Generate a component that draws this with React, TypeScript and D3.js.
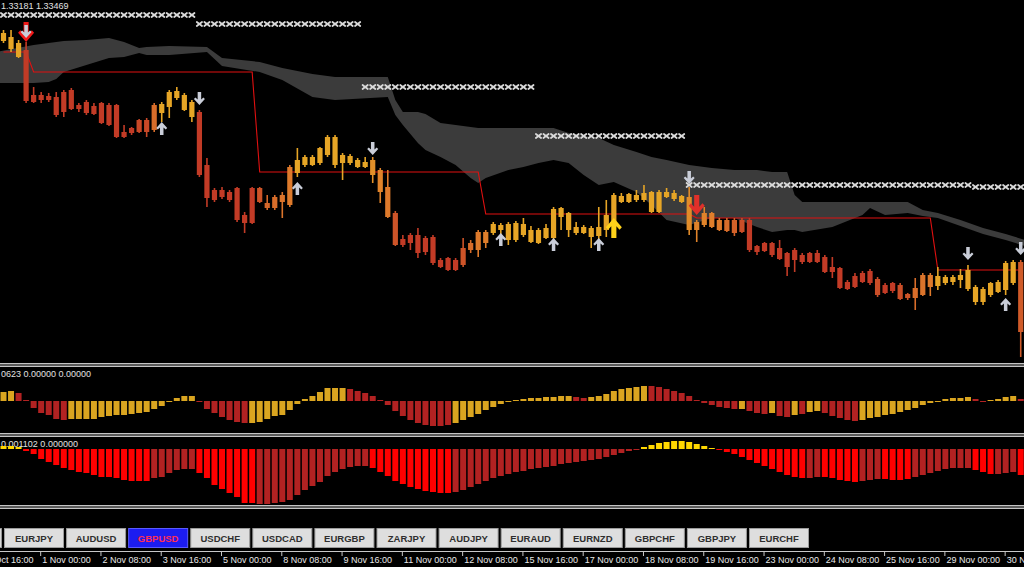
import React from "react";
import * as d3 from "d3";

const W = 1024;
const H = 567;

// ---------- price candles (H4 GBPUSD) ----------
const opens = [
  1.3809, 1.3801, 1.3793, 1.3800, 1.3755, 1.3755, 1.3754, 1.3753, 1.3758, 1.3760,
  1.3745, 1.3748, 1.3744, 1.3747, 1.3745, 1.3745, 1.3718, 1.3722, 1.3718, 1.3718,
  1.3720, 1.3737, 1.3743, 1.3752, 1.3755, 1.3748, 1.3738, 1.3685, 1.3650, 1.3660,
  1.3658, 1.3662, 1.3627, 1.3627, 1.3662, 1.3647, 1.3642, 1.3648, 1.3645, 1.3677,
  1.3685, 1.3693, 1.3687, 1.3695, 1.3713, 1.3687, 1.3694, 1.3690, 1.3683, 1.3690,
  1.3680, 1.3663, 1.3637, 1.3611, 1.3607, 1.3615, 1.3598, 1.3613, 1.3590, 1.3580,
  1.3590, 1.3585, 1.3600, 1.3600, 1.3618, 1.3617, 1.3620, 1.3626, 1.3610, 1.3626,
  1.3620, 1.3607, 1.3612, 1.3612, 1.3642, 1.3637, 1.3623, 1.3617, 1.3622, 1.3614,
  1.3620, 1.3628, 1.3648, 1.3656, 1.3650, 1.3650, 1.3638, 1.3658, 1.3653, 1.3657,
  1.3648, 1.3653, 1.3620, 1.3625, 1.3637, 1.3630, 1.3619, 1.3630, 1.3618, 1.3630,
  1.3604, 1.3599, 1.3607, 1.3602, 1.3597, 1.3590, 1.3595, 1.3588, 1.3597, 1.3593,
  1.3583, 1.3582, 1.3561, 1.3563, 1.3568, 1.3579, 1.3571, 1.3557, 1.3567, 1.3565,
  1.3552, 1.3552, 1.3555, 1.3575, 1.3564, 1.3567, 1.3573, 1.3570, 1.3580, 1.3563,
  1.3548, 1.3555, 1.3558, 1.3560, 1.3588, 1.3588,
];
const closes = [
  1.3817, 1.3813, 1.3807, 1.3749, 1.3748, 1.3750, 1.3750, 1.3735, 1.3738, 1.3741,
  1.3741, 1.3737, 1.3736, 1.3727, 1.3725, 1.3713, 1.3713, 1.3717, 1.3730, 1.3730,
  1.3745, 1.3746, 1.3758, 1.3759, 1.3740, 1.3733, 1.3675, 1.3652, 1.3660, 1.3653,
  1.3650, 1.3630, 1.3635, 1.3662, 1.3648, 1.3642, 1.3653, 1.3655, 1.3683, 1.3690,
  1.3693, 1.3685, 1.3702, 1.3713, 1.3685, 1.3695, 1.3687, 1.3683, 1.3688, 1.3675,
  1.3658, 1.3633, 1.3605, 1.3605, 1.3615, 1.3597, 1.3612, 1.3587, 1.3583, 1.3592,
  1.3580, 1.3602, 1.3607, 1.3618, 1.3607, 1.3626, 1.3625, 1.3610, 1.3627, 1.3615,
  1.3608, 1.3620, 1.3622, 1.3641, 1.3633, 1.3620, 1.3617, 1.3623, 1.3613, 1.3623,
  1.3635, 1.3655, 1.3654, 1.3648, 1.3655, 1.3657, 1.3658, 1.3638, 1.3658, 1.3651,
  1.3654, 1.3620, 1.3628, 1.3637, 1.3623, 1.3620, 1.3630, 1.3617, 1.3630, 1.3600,
  1.3598, 1.3607, 1.3595, 1.3591, 1.3583, 1.3600, 1.3588, 1.3597, 1.3588, 1.3578,
  1.3578, 1.3562, 1.3568, 1.3574, 1.3577, 1.3567, 1.3555, 1.3565, 1.3559, 1.3551,
  1.3556, 1.3562, 1.3575, 1.3563, 1.3574, 1.3573, 1.3568, 1.3575, 1.3561, 1.3548,
  1.3561, 1.3567, 1.3568, 1.3587, 1.3567, 1.3518,
];
const highs = [
  1.3820, 1.3820, 1.3810, 1.3808, 1.3763, 1.3758, 1.3757, 1.3758, 1.3760, 1.3762,
  1.3747, 1.3750, 1.3747, 1.3748, 1.3747, 1.3746, 1.3725, 1.3723, 1.3731, 1.3732,
  1.3747, 1.3748, 1.3760, 1.3763, 1.3757, 1.3750, 1.3740, 1.3692, 1.3662, 1.3663,
  1.3660, 1.3663, 1.3638, 1.3663, 1.3663, 1.3655, 1.3655, 1.3658, 1.3685, 1.3702,
  1.3695, 1.3695, 1.3703, 1.3715, 1.3715, 1.3697, 1.3696, 1.3692, 1.3693, 1.3693,
  1.3682, 1.3680, 1.3639, 1.3615, 1.3617, 1.3622, 1.3614, 1.3615, 1.3592, 1.3593,
  1.3592, 1.3612, 1.3610, 1.3620, 1.3620, 1.3628, 1.3627, 1.3628, 1.3629, 1.3632,
  1.3624, 1.3622, 1.3626, 1.3643, 1.3643, 1.3638, 1.3628, 1.3625, 1.3624, 1.3643,
  1.3650, 1.3657, 1.3657, 1.3657, 1.3660, 1.3665, 1.3659, 1.3660, 1.3662, 1.3660,
  1.3655, 1.3663, 1.3630, 1.3643, 1.3638, 1.3632, 1.3632, 1.3632, 1.3632, 1.3632,
  1.3605, 1.3608, 1.3608, 1.3610, 1.3598, 1.3602, 1.3597, 1.3598, 1.3600, 1.3595,
  1.3593, 1.3583, 1.3570, 1.3577, 1.3579, 1.3581, 1.3573, 1.3567, 1.3568, 1.3567,
  1.3557, 1.3572, 1.3577, 1.3577, 1.3583, 1.3575, 1.3575, 1.3581, 1.3585, 1.3565,
  1.3563, 1.3568, 1.3570, 1.3589, 1.3590, 1.3590,
];
const lows = [
  1.3807, 1.3798, 1.3792, 1.3747, 1.3747, 1.3747, 1.3748, 1.3733, 1.3733, 1.3740,
  1.3738, 1.3735, 1.3735, 1.3726, 1.3724, 1.3712, 1.3712, 1.3715, 1.3717, 1.3713,
  1.3718, 1.3728, 1.3732, 1.3750, 1.3739, 1.3728, 1.3673, 1.3643, 1.3648, 1.3651,
  1.3648, 1.3628, 1.3617, 1.3626, 1.3647, 1.3640, 1.3640, 1.3632, 1.3643, 1.3673,
  1.3683, 1.3684, 1.3685, 1.3693, 1.3682, 1.3670, 1.3685, 1.3682, 1.3682, 1.3667,
  1.3647, 1.3632, 1.3604, 1.3603, 1.3600, 1.3592, 1.3595, 1.3585, 1.3582, 1.3579,
  1.3579, 1.3583, 1.3597, 1.3593, 1.3602, 1.3615, 1.3612, 1.3605, 1.3608, 1.3613,
  1.3607, 1.3606, 1.3611, 1.3610, 1.3620, 1.3613, 1.3615, 1.3616, 1.3602, 1.3610,
  1.3613, 1.3627, 1.3647, 1.3647, 1.3648, 1.3648, 1.3637, 1.3637, 1.3652, 1.3649,
  1.3647, 1.3615, 1.3608, 1.3623, 1.3622, 1.3619, 1.3618, 1.3614, 1.3617, 1.3598,
  1.3595, 1.3598, 1.3593, 1.3590, 1.3574, 1.3578, 1.3586, 1.3587, 1.3587, 1.3577,
  1.3572, 1.3561, 1.3560, 1.3562, 1.3567, 1.3565, 1.3553, 1.3556, 1.3557, 1.3550,
  1.3550, 1.3540, 1.3554, 1.3554, 1.3560, 1.3565, 1.3565, 1.3562, 1.3559, 1.3545,
  1.3545, 1.3553, 1.3557, 1.3555, 1.3565, 1.3493,
];
// trend colouring of each candle: 0 = gold, 0.5 = orange, 1 = red
const trendHeat = [
  0, 0, 0, 1, 1, 1, 1, 1, 1, 1,
  1, 1, 1, 1, 1, 1, 1, 1, 0.9, 0.9,
  0.6, 0, 0, 0, 0, 0, 1, 1, 1, 1,
  1, 1, 1, 1, 0.8, 0.65, 0.6, 0.55, 0.5, 0,
  0, 0, 0, 0, 0, 0, 0, 0, 0, 0.25,
  0.4, 0.5, 0.8, 1, 1, 1, 1, 1, 1, 1,
  1, 0.8, 0.6, 0.5, 0.45, 0, 0, 0, 0, 0,
  0, 0, 0, 0, 0, 0, 0, 0, 0, 0,
  0, 0, 0, 0, 0, 0, 0, 0, 0, 0,
  0, 0.3, 0.4, 0.4, 0.45, 0.5, 0.6, 0.7, 0.85, 1,
  1, 1, 1, 1, 1, 1, 1, 1, 1, 1,
  1, 1, 1, 1, 1, 1, 0.85, 1, 1, 0.85,
  0.8, 0.6, 0.55, 0.5, 0, 0, 0, 0, 0, 0,
  0, 0, 0, 0, 0, 0.75,
];

// ---------- Ichimoku cloud (sampled bars) ----------
const cloudBars = [-1, 4, 6, 7, 8, 11, 14, 16, 18, 19, 22, 27, 29, 34, 37, 41, 44, 51, 52, 53, 55, 56, 58, 60, 62, 63, 64, 67, 69, 71, 73, 75, 77, 79, 81, 84, 86, 88, 91, 94, 97, 100, 102, 104, 105, 106, 110, 114, 115, 117, 120, 122, 124, 127, 130, 133, 136];
const cloudUpper = [1.3798, 1.3805, 1.3807, 1.3808, 1.3809, 1.3810, 1.3812, 1.3808, 1.3802, 1.3803, 1.3804, 1.3803, 1.3792, 1.3788, 1.3782, 1.3776, 1.3773, 1.3773, 1.3750, 1.3738, 1.3738, 1.3736, 1.3727, 1.3725, 1.3723, 1.3722, 1.3722, 1.3722, 1.3722, 1.3722, 1.3722, 1.3717, 1.3714, 1.3712, 1.3705, 1.3698, 1.3693, 1.3690, 1.3685, 1.3682, 1.3680, 1.3680, 1.3678, 1.3678, 1.3655, 1.3648, 1.3648, 1.3648, 1.3648, 1.3648, 1.3648, 1.3640, 1.3637, 1.3630, 1.3622, 1.3616, 1.3609];
const cloudLower = [1.3767, 1.3767, 1.3768, 1.3771, 1.3778, 1.3785, 1.3792, 1.3793, 1.3797, 1.3795, 1.3795, 1.3798, 1.3784, 1.3778, 1.3770, 1.3753, 1.3750, 1.3753, 1.3735, 1.3725, 1.3707, 1.3700, 1.3693, 1.3685, 1.3672, 1.3667, 1.3672, 1.3680, 1.3683, 1.3687, 1.3690, 1.3687, 1.3675, 1.3665, 1.3668, 1.3658, 1.3645, 1.3630, 1.3625, 1.3632, 1.3632, 1.3623, 1.3618, 1.3620, 1.3620, 1.3618, 1.3623, 1.3635, 1.3642, 1.3635, 1.3637, 1.3634, 1.3632, 1.3624, 1.3616, 1.3610, 1.3603];

// ---------- trailing stop line (bar ranges) ----------
const stopFrom = [0, 4, 34, 64, 92, 124];
const stopTo = [3, 33, 63, 91, 123, 135];
const stopLevel = [1.3798, 1.3778, 1.3678, 1.3636, 1.3632, 1.3580];

// ---------- x-marker rows ----------
const markFrom = [0, 26, 48, 71, 91, 129];
const markTo = [25, 47, 70, 90, 128, 135];
const markLevel = [1.3835, 1.3826, 1.3763, 1.3714, 1.3665, 1.3663];

// ---------- signal arrows ----------
const downArrowBars = [3, 26, 49, 91, 128, 135];
const downArrowTips = [1.3812, 1.3745, 1.3695, 1.3666, 1.3590, 1.3595];
const upArrowBars = [21, 39, 66, 73, 79, 133];
const upArrowTips = [1.3728, 1.3668, 1.3617, 1.3612, 1.3612, 1.3552];
const bigDownBars = [3, 92];
const bigDownTips = [1.3808, 1.3635];
const bigUpBars = [81];
const bigUpTips = [1.3632];

// ---------- sub window 1 histogram ----------
const hist1 = [
  0.00009, 0.00010, 0.00008, 0.00001, -0.00007, -0.00012, -0.00014, -0.00018, -0.00019, -0.00018,
  -0.00018, -0.00018, -0.00018, -0.00016, -0.00015, -0.00014, -0.00014, -0.00013, -0.00012, -0.00011,
  -0.00008, -0.00005, -0.00001, 0.00003, 0.00005, 0.00005, -0.00001, -0.00008, -0.00012, -0.00016,
  -0.00019, -0.00021, -0.00022, -0.00022, -0.00021, -0.00018, -0.00015, -0.00014, -0.00009, -0.00003,
  0.00002, 0.00005, 0.00009, 0.00013, 0.00013, 0.00013, 0.00012, 0.00010, 0.00008, 0.00005,
  0.00001, -0.00004, -0.00010, -0.00015, -0.00019, -0.00022, -0.00024, -0.00025, -0.00025, -0.00024,
  -0.00022, -0.00019, -0.00016, -0.00013, -0.00009, -0.00006, -0.00003, -0.00001, 0.00001, 0.00002,
  0.00003, 0.00003, 0.00004, 0.00004, 0.00005, 0.00005, 0.00004, 0.00003, 0.00004, 0.00005,
  0.00007, 0.00010, 0.00012, 0.00013, 0.00014, 0.00015, 0.00015, 0.00014, 0.00012, 0.00010,
  0.00008, 0.00005, 0.00001, -0.00002, -0.00004, -0.00006, -0.00007, -0.00008, -0.00008, -0.00010,
  -0.00012, -0.00013, -0.00012, -0.00015, -0.00016, -0.00014, -0.00013, -0.00011, -0.00010, -0.00012,
  -0.00015, -0.00017, -0.00019, -0.00020, -0.00019, -0.00017, -0.00016, -0.00014, -0.00013, -0.00011,
  -0.00009, -0.00007, -0.00004, -0.00002, 0.00000, 0.00002, 0.00003, 0.00003, 0.00004, 0.00002,
  0.00000, 0.00001, 0.00002, 0.00004, 0.00005, 0.00002,
];
const hist1Colors =
  "gg" + "rrrrrrr" + "ggggggggggggggggg" + "rrrrrrr" + "ggggggggggggg" + "rrrrrrrrrrrrrr" +
  "gggggggggggggggg" + "rr" + "gggggggg" + "rrrrrrrrrrrr" + "g" + "rrr" + "g" + "rr" + "g" + "r" +
  "gg" + "rrrrr" + "ggggggggggggggg" + "rr" + "gggg" + "r";

// ---------- sub window 2 histogram ----------
const hist2 = [
  0.00003, 0.00003, 0.00002, -0.00002, -0.00005, -0.00010, -0.00013, -0.00016, -0.00019, -0.00021,
  -0.00023, -0.00024, -0.00026, -0.00028, -0.00028, -0.00029, -0.00031, -0.00032, -0.00032, -0.00032,
  -0.00029, -0.00028, -0.00024, -0.00021, -0.00020, -0.00020, -0.00024, -0.00029, -0.00036, -0.00040,
  -0.00044, -0.00048, -0.00054, -0.00054, -0.00055, -0.00055, -0.00054, -0.00053, -0.00051, -0.00046,
  -0.00041, -0.00037, -0.00033, -0.00027, -0.00023, -0.00020, -0.00018, -0.00017, -0.00017, -0.00019,
  -0.00023, -0.00027, -0.00032, -0.00035, -0.00038, -0.00040, -0.00042, -0.00043, -0.00044, -0.00044,
  -0.00043, -0.00041, -0.00038, -0.00035, -0.00032, -0.00029, -0.00027, -0.00025, -0.00023, -0.00022,
  -0.00020, -0.00019, -0.00018, -0.00017, -0.00015, -0.00014, -0.00013, -0.00012, -0.00011, -0.00010,
  -0.00008, -0.00006, -0.00004, -0.00002, -0.00001, 0.00002, 0.00004, 0.00006, 0.00007, 0.00008,
  0.00008, 0.00007, 0.00005, 0.00003, 0.00001, -0.00001, -0.00003, -0.00005, -0.00008, -0.00011,
  -0.00014, -0.00017, -0.00020, -0.00023, -0.00026, -0.00028, -0.00029, -0.00029, -0.00028, -0.00028,
  -0.00029, -0.00031, -0.00032, -0.00033, -0.00032, -0.00031, -0.00030, -0.00030, -0.00031, -0.00031,
  -0.00030, -0.00028, -0.00026, -0.00024, -0.00022, -0.00020, -0.00019, -0.00019, -0.00019, -0.00021,
  -0.00023, -0.00025, -0.00025, -0.00024, -0.00023, -0.00026,
];
const hist2Colors =
  "yyy" + "bbbbbbbbbbbbbbbbb" + "dddddd" + "bbbbbbbb" + "ddddddddddddddd" + "bbbbbbbbbbb" +
  "ddddddddddddddddddddddddd" + "yyyyyyyyyy" + "bbbbbbbbbbbb" + "dd" + "bbbbb" + "ddd" + "bbbb" +
  "dddddddd" + "bbb" + "ddd" + "b";

// ---------- indicator value captions (visible part) ----------
const sub1Caption = "0623 0.00000 0.00000";
const sub2Caption = "0.001102 0.000000";
const mainCaption = "1.33181 1.33469";

// ---------- time axis ----------
const timeTickBars = [-3, 5, 13, 21, 29, 37, 45, 53, 61, 69, 77, 85, 93, 101, 109, 117, 125, 133];
const timeTickLabels = [
  "28 Oct 16:00", "1 Nov 00:00", "2 Nov 08:00", "3 Nov 16:00", "5 Nov 00:00", "8 Nov 08:00",
  "9 Nov 16:00", "11 Nov 00:00", "12 Nov 08:00", "15 Nov 16:00", "17 Nov 00:00", "18 Nov 08:00",
  "19 Nov 16:00", "23 Nov 00:00", "24 Nov 08:00", "25 Nov 16:00", "29 Nov 00:00", "30 Nov 08:00",
];

// ---------- symbol buttons (first one only shows its right edge) ----------
const symbols = ["", "EURJPY", "AUDUSD", "GBPUSD", "USDCHF", "USDCAD", "EURGBP", "ZARJPY", "AUDJPY", "EURAUD", "EURNZD", "GBPCHF", "GBPJPY", "EURCHF"];
const activeSymbol = "GBPUSD";

// ---------- scales ----------
const xs = d3.scaleLinear().domain([0, 135]).range([3.5, 3.5 + 135 * 7.535]);
const ys = d3.scaleLinear().domain([1.385, 1.3487]).range([0, 363]);
const y1s = d3.scaleLinear().domain([0.00034, -0.00032]).range([367, 433]);
const y2s = d3.scaleLinear().domain([0.00012, -0.00058]).range([437, 507]);
const heatColor = d3
  .scaleLinear<string>()
  .domain([0, 0.5, 1])
  .range(["#E6A526", "#DE7A2B", "#C23B26"])
  .interpolate(d3.interpolateRgb);
const btnX = d3.scaleLinear().domain([0, 12]).range([4, 749]);

const FONT = "'Liberation Sans', Arial, sans-serif";

function arrowPath(w: number, h: number): string {
  const sx = w / 10;
  const sy = h / 12;
  const pts = [[0, 0], [5, -5.5], [3.6, -7], [1.6, -5], [1.6, -12], [-1.6, -12], [-1.6, -5], [-3.6, -7], [-5, -5.5]];
  return "M" + pts.map(([a, b]) => `${(a * sx).toFixed(2)},${(b * sy).toFixed(2)}`).join("L") + "Z";
}

export default function App() {
  const bars = d3.range(opens.length);

  const cloudArea = d3
    .area<number>()
    .x((i) => xs(cloudBars[i]))
    .y0((i) => ys(cloudLower[i]))
    .y1((i) => ys(cloudUpper[i]));

  const stopPts: [number, number][] = [];
  stopFrom.forEach((f, s) => {
    for (let i = f; i <= stopTo[s]; i++) stopPts.push([xs(i), ys(stopLevel[s])]);
  });
  const stopLine = d3.line()(stopPts) || "";

  const marks: { x: number; y: number }[] = [];
  markFrom.forEach((f, s) => {
    for (let i = f; i <= markTo[s]; i++) marks.push({ x: xs(i), y: ys(markLevel[s]) });
  });

  const smallArrow = arrowPath(11, 13);
  const bigArrow = arrowPath(16, 20);

  const h1Fill: Record<string, string> = { g: "#DAA520", r: "#B22222" };
  const h2Fill: Record<string, string> = { y: "#FFD700", b: "#FF0000", d: "#B22222" };

  const sep = (yTop: number) => (
    <g key={yTop}>
      <rect x={0} y={yTop} width={W} height={4} fill="#5a5a5a" />
      <line x1={0} x2={W} y1={yTop + 0.5} y2={yTop + 0.5} stroke="#c4c4c4" />
      <line x1={0} x2={W} y1={yTop + 3.5} y2={yTop + 3.5} stroke="#c4c4c4" />
    </g>
  );

  return (
    <div style={{ position: "fixed", left: 0, top: 0, width: W, height: H }}>
      <svg width={W} height={H} style={{ display: "block" }} fontFamily={FONT}>
        <defs>
          <clipPath id="mainClip">
            <rect x={0} y={0} width={W} height={362} />
          </clipPath>
        </defs>
        <rect x={0} y={0} width={W} height={H} fill="#000" />

        {/* main pane */}
        <g clipPath="url(#mainClip)">
          <path d={cloudArea(d3.range(cloudBars.length)) || ""} fill="#3b3b3b" />
          <path d={stopLine} fill="none" stroke="#E01010" strokeWidth={1.1} />
          {bars.map((i) => {
            const c = heatColor(trendHeat[i]);
            const top = ys(Math.max(opens[i], closes[i]));
            const bot = ys(Math.min(opens[i], closes[i]));
            return (
              <g key={i}>
                <line x1={xs(i)} x2={xs(i)} y1={ys(highs[i])} y2={ys(lows[i])} stroke={c} strokeWidth={1.6} />
                <rect x={xs(i) - 2.6} y={top} width={5.2} height={Math.max(1, bot - top)} fill={c} />
              </g>
            );
          })}
          {marks.map((m, k) => (
            <g key={k} stroke="#dadada" strokeWidth={1.8} strokeLinecap="round">
              <line x1={m.x - 2.6} x2={m.x + 2.6} y1={m.y - 2} y2={m.y + 2} />
              <line x1={m.x - 2.6} x2={m.x + 2.6} y1={m.y + 2} y2={m.y - 2} />
            </g>
          ))}
          {bigDownBars.map((b, k) => (
            <path key={"bd" + k} d={bigArrow} transform={`translate(${xs(b)},${ys(bigDownTips[k])})`} fill={k === 0 ? "#F01818" : "#E0302A"} />
          ))}
          {bigUpBars.map((b, k) => (
            <path key={"bu" + k} d={bigArrow} transform={`translate(${xs(b)},${ys(bigUpTips[k])}) scale(1,-1)`} fill="#FFD21A" />
          ))}
          {downArrowBars.map((b, k) => (
            <path key={"d" + k} d={smallArrow} transform={`translate(${xs(b)},${ys(downArrowTips[k])})`} fill="#C9CDD8" />
          ))}
          {upArrowBars.map((b, k) => (
            <path key={"u" + k} d={smallArrow} transform={`translate(${xs(b)},${ys(upArrowTips[k])}) scale(1,-1)`} fill="#C9CDD8" />
          ))}
        </g>
        <text x={1} y={9} fontSize={9} fill="#e0e0e0">{mainCaption}</text>

        {sep(363)}

        {/* sub window 1 */}
        {bars.map((i) => {
          const a = y1s(hist1[i]);
          const z = y1s(0);
          return (
            <rect key={"h1" + i} x={xs(i) - 3} width={6} y={Math.min(a, z)} height={Math.max(1, Math.abs(a - z))} fill={h1Fill[hist1Colors[i]]} />
          );
        })}
        <text x={1} y={377} fontSize={9} fill="#e0e0e0">{sub1Caption}</text>

        {sep(433)}

        {/* sub window 2 */}
        <text x={1} y={447} fontSize={9} fill="#e0e0e0">{sub2Caption}</text>
        {bars.map((i) => {
          const a = y2s(hist2[i]);
          const z = y2s(0);
          return (
            <rect key={"h2" + i} x={xs(i) - 3} width={6} y={Math.min(a, z)} height={Math.max(1, Math.abs(a - z))} fill={h2Fill[hist2Colors[i]]} />
          );
        })}

        {sep(505)}

        {/* symbol buttons */}
        {symbols.map((s, k) => {
          const bx = btnX(k - 1);
          const active = s === activeSymbol;
          return (
            <g key={"b" + k}>
              <rect x={bx + 0.5} y={528.5} width={59} height={19} fill={active ? "#1c1cf0" : "#dedede"} stroke={active ? "#5a5aff" : "#9c9c9c"} />
              {s && (
                <text x={bx + 30} y={541.5} fontSize={9.5} fontWeight="bold" textAnchor="middle" fill={active ? "#ff2d55" : "#2e2e2e"}>{s}</text>
              )}
            </g>
          );
        })}

        {/* time axis */}
        <line x1={0} x2={W} y1={551.5} y2={551.5} stroke="#c8c8c8" />
        {timeTickBars.map((b, k) => (
          <g key={"t" + k}>
            <line x1={xs(b) - 0.5} x2={xs(b) - 0.5} y1={551} y2={556} stroke="#c8c8c8" />
            <text x={xs(b) + 1} y={563} fontSize={9} fill="#e8e8e8">{timeTickLabels[k]}</text>
          </g>
        ))}
      </svg>
    </div>
  );
}
